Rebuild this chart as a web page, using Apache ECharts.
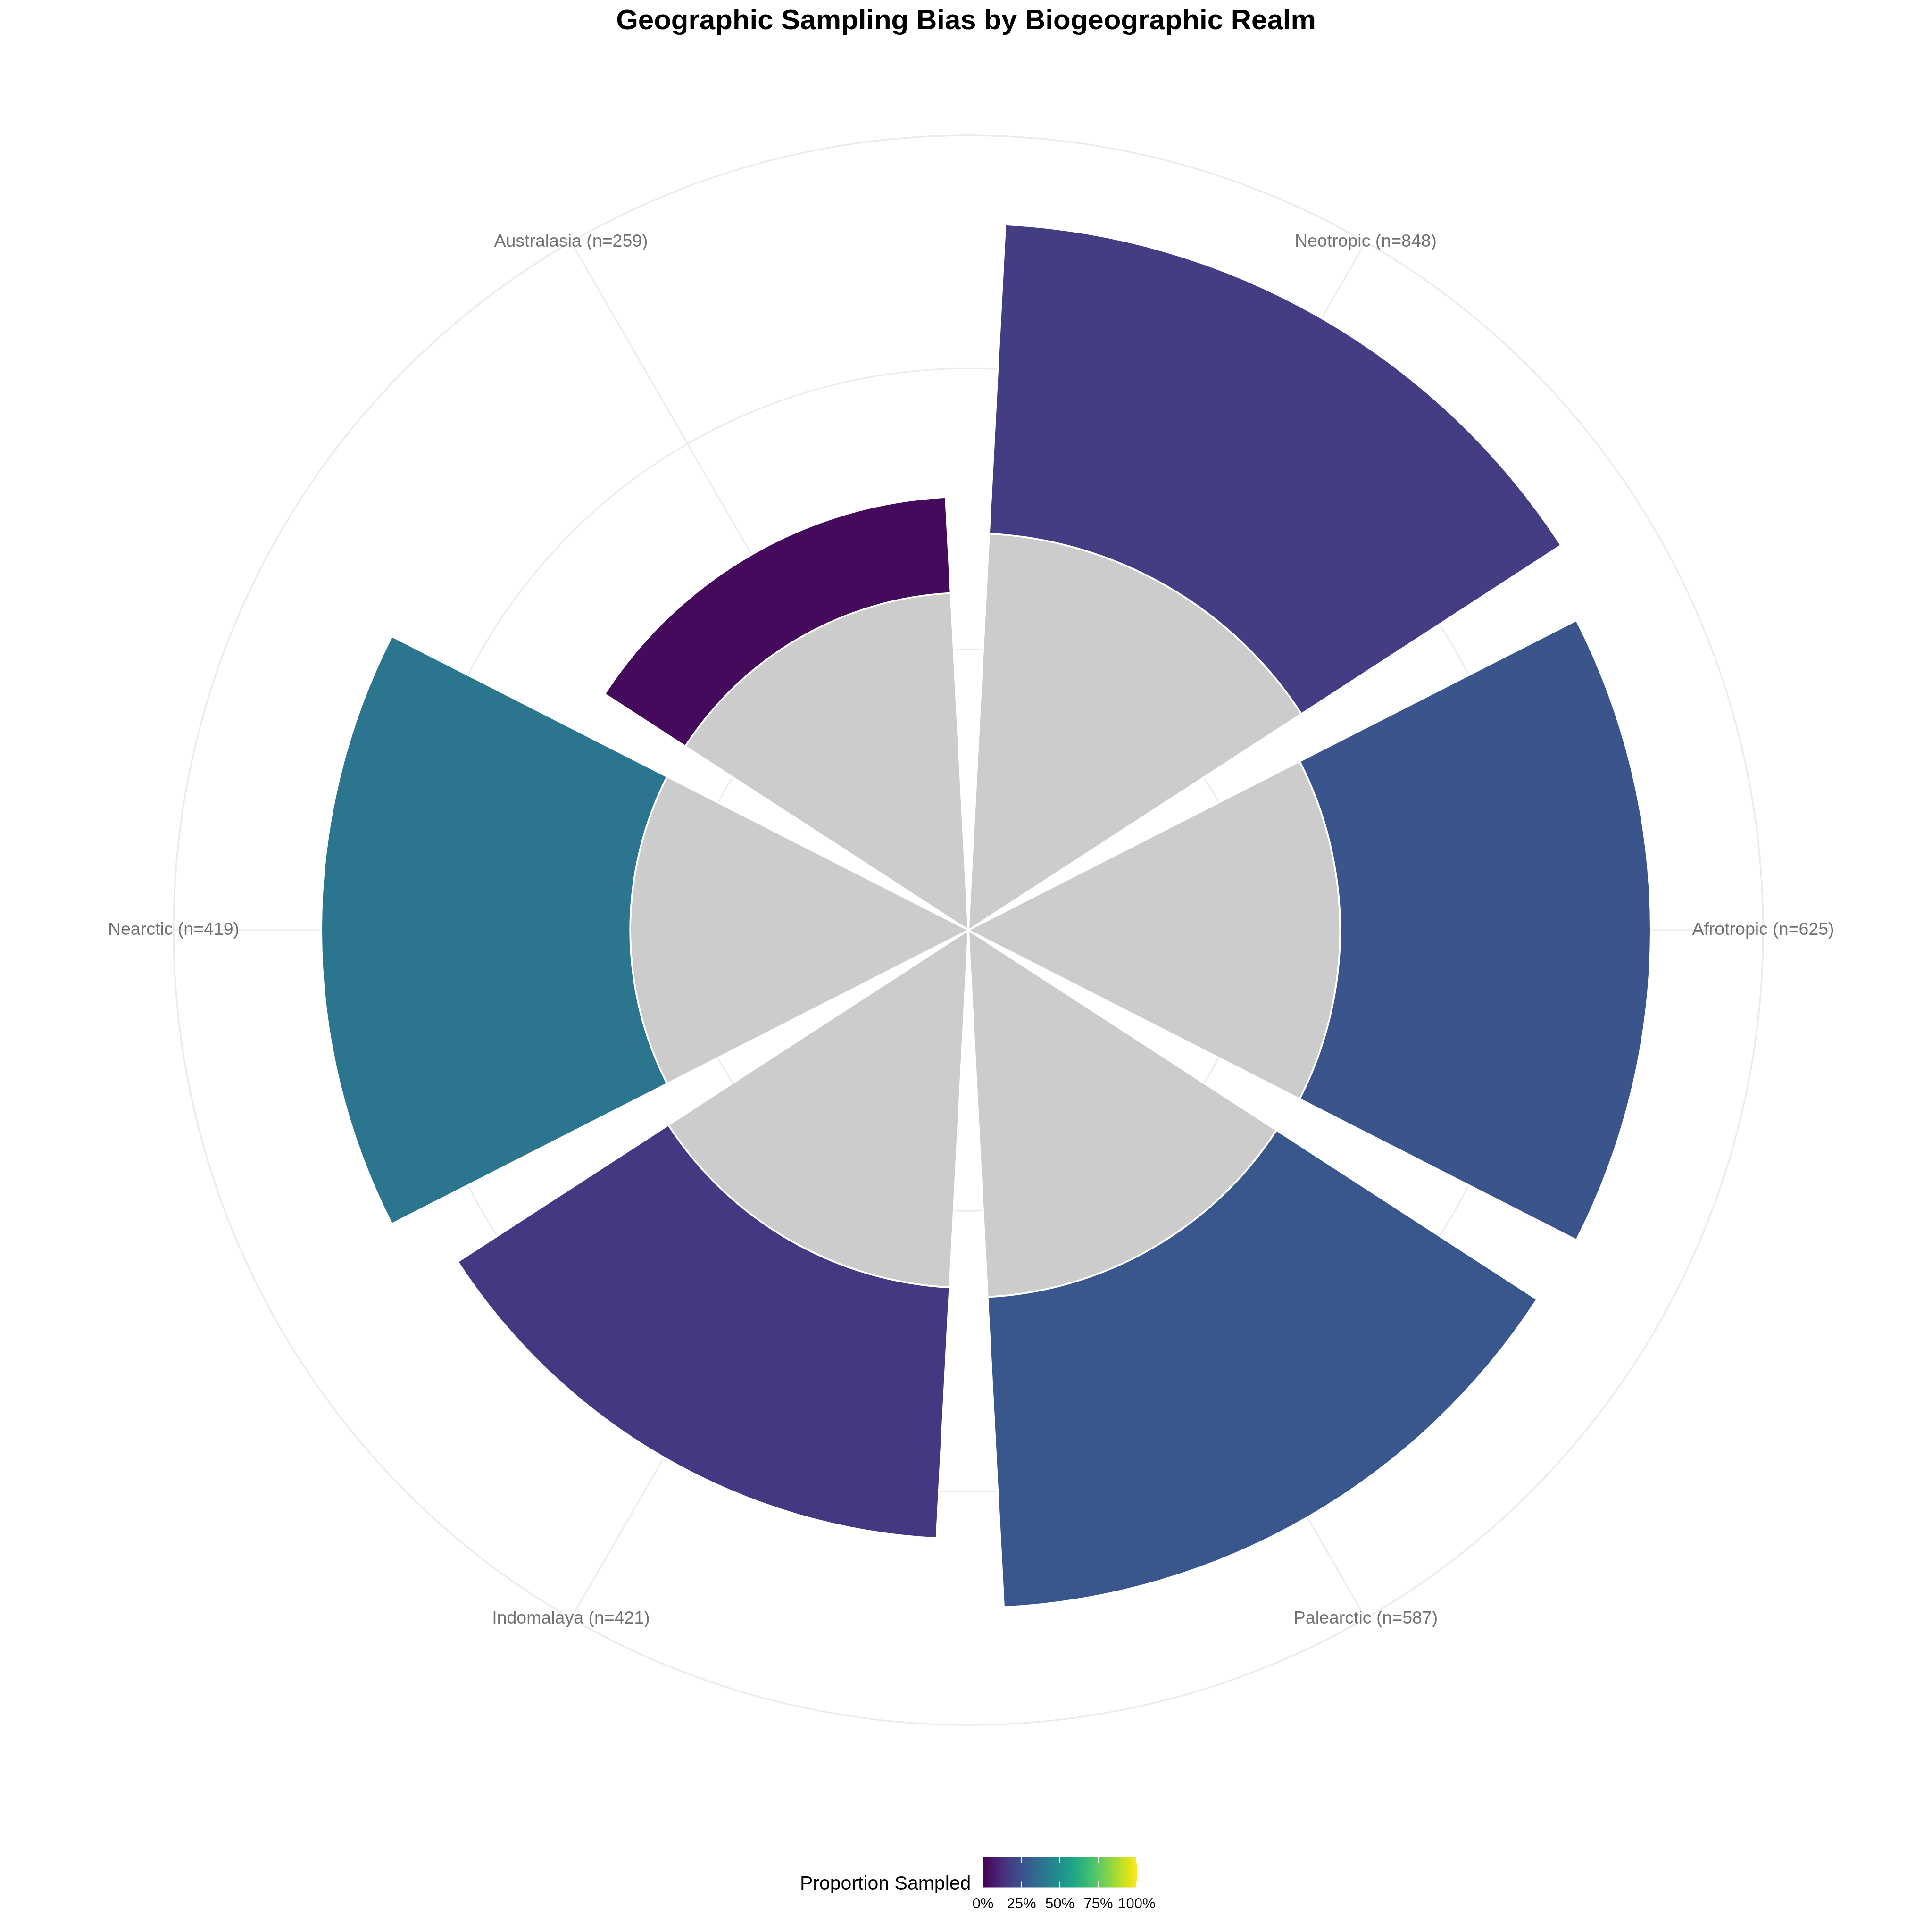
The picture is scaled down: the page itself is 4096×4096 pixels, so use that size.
<!DOCTYPE html>
<html>
<head>
<meta charset="utf-8">
<script src="https://cdn.jsdelivr.net/npm/echarts@6/dist/echarts.min.js"></script>
<style>
  html, body { margin: 0; padding: 0; background: #ffffff; }
  #chart { width: 4096px; height: 4096px; }
</style>
</head>
<body>
<div id="chart"></div>
<script>
// ---- data ----
const realms        = ['Neotropic', 'Afrotropic', 'Palearctic', 'Indomalaya', 'Nearctic', 'Australasia'];
const nRecords      = [848, 625, 587, 421, 419, 259];
const baseValues    = [7.07, 6.62, 6.54, 6.37, 6.02, 6.01];   // grey inner bar
const sampledValues = [5.51, 5.53, 5.53, 4.47, 5.50, 1.71];   // coloured outer bar
const proportions   = [0.18, 0.26, 0.27, 0.16, 0.39, 0.025];  // fill (proportion sampled)
const radialMax     = 14.15;   // outer ring of the polar panel
const radialStep    = 5;
const legendTicks   = [0, 0.25, 0.5, 0.75, 1];

const viridis = ['#440154','#471365','#482475','#463480','#414487','#3B528B','#355F8D',
  '#2F6C8E','#2A788E','#25848E','#21918C','#1E9C89','#22A884','#2FB47C','#44BF70',
  '#5EC962','#7AD151','#9BD93C','#BDDF26','#DFE318','#FDE725'];

const FONT = "'Liberation Sans', Arial, Helvetica, sans-serif";
const GRID = '#EBEBEB';
const CENTER = [2053, 1972];
const RADIUS = 1685;

const chart = echarts.init(document.getElementById('chart'), null, { renderer: 'canvas' });

const option = {
  backgroundColor: '#ffffff',
  animation: false,
  title: [
    {
      text: 'Geographic Sampling Bias by Biogeographic Realm',
      left: 'center', top: 15, padding: 0,
      textStyle: { fontFamily: FONT, fontSize: 60, fontWeight: 'bold', color: '#000000', lineHeight: 61 }
    },
    {
      text: 'Proportion Sampled',
      left: 1696, top: 3974, padding: 0,
      textStyle: { fontFamily: FONT, fontSize: 41, fontWeight: 'normal', color: '#000000', lineHeight: 41 }
    }
  ],
  polar: [
    { center: CENTER, radius: RADIUS },   // bars, spokes, labels
    { center: CENTER, radius: RADIUS }    // full grid rings
  ],
  angleAxis: [
    {
      polarIndex: 0,
      type: 'category',
      data: realms,
      boundaryGap: false,
      startAngle: 60,
      clockwise: true,
      axisLine: { show: false },
      axisTick: { show: false, interval: 0 },
      axisLabel: { show: false },
      splitLine: { show: true, interval: 0, lineStyle: { color: GRID, width: 3 } }
    },
    {
      polarIndex: 1,
      type: 'value',
      min: 0, max: 360, interval: 90,
      startAngle: 90,
      axisLine: { show: true, lineStyle: { color: GRID, width: 3 } },
      axisTick: { show: false },
      axisLabel: { show: false },
      splitLine: { show: false }
    }
  ],
  radiusAxis: [
    {
      polarIndex: 0,
      type: 'value',
      min: 0, max: radialMax, interval: radialStep,
      axisLine: { show: false },
      axisTick: { show: false },
      axisLabel: { show: false },
      splitLine: { show: false }
    },
    {
      polarIndex: 1,
      type: 'value',
      min: 0, max: radialMax, interval: radialStep,
      axisLine: { show: false },
      axisTick: { show: false },
      axisLabel: { show: false },
      splitLine: { show: true, lineStyle: { color: GRID, width: 3 } }
    }
  ],
  grid: { left: 2084, top: 3936, width: 326, height: 65.5 },
  xAxis: [
    {
      type: 'value', gridIndex: 0, position: 'bottom', min: 0, max: 1, interval: 0.25, z: 10,
      axisLine: { show: false },
      axisTick: { show: true, inside: true, length: 13, lineStyle: { color: '#ffffff', width: 2 } },
      axisLabel: {
        show: true, margin: 20, fontFamily: FONT, fontSize: 31, lineHeight: 31, color: '#000000',
        formatter: v => Math.round(v * 100) + '%'
      },
      splitLine: { show: false }
    },
    {
      type: 'value', gridIndex: 0, position: 'top', min: 0, max: 1, interval: 0.25, z: 10,
      axisLine: { show: false },
      axisTick: { show: true, inside: true, length: 13, lineStyle: { color: '#ffffff', width: 2 } },
      axisLabel: { show: false },
      splitLine: { show: false }
    }
  ],
  yAxis: { type: 'category', gridIndex: 0, data: ['bar'], show: false },
  visualMap: {
    type: 'continuous', show: false, seriesIndex: 1, dimension: 2,
    min: 0, max: 1, inRange: { color: viridis }
  },
  series: [
    {
      name: 'base', type: 'bar', coordinateSystem: 'polar', polarIndex: 0, stack: 'realm',
      barCategoryGap: '10%',
      data: realms.map((r, i) => [baseValues[i], r]),
      itemStyle: { color: '#CCCCCC', borderColor: '#ffffff', borderWidth: 3.6 },
      silent: true
    },
    {
      name: 'sampled', type: 'bar', coordinateSystem: 'polar', polarIndex: 0, stack: 'realm',
      barCategoryGap: '10%',
      data: realms.map((r, i) => [sampledValues[i], r, proportions[i]]),
      itemStyle: { borderColor: '#ffffff', borderWidth: 3.6 },
      silent: true
    },
    {
      name: 'labels', type: 'scatter', coordinateSystem: 'polar', polarIndex: 0,
      data: realms.map((r, i) => ({ name: r + ' (n=' + nRecords[i] + ')', value: [radialMax, r] })),
      symbolSize: 1,
      itemStyle: { color: 'rgba(0,0,0,0)' },
      label: {
        show: true, position: 'inside', formatter: '{b}',
        fontFamily: FONT, fontSize: 37.5, color: '#4D4D4D'
      },
      silent: true, z: 10
    },
    {
      name: 'colorbar', type: 'bar', xAxisIndex: 0, yAxisIndex: 0,
      data: [legendTicks[legendTicks.length - 1]],
      barWidth: '100%',
      itemStyle: {
        color: new echarts.graphic.LinearGradient(0, 0, 1, 0,
          viridis.map((c, i) => ({ offset: i / (viridis.length - 1), color: c })))
      },
      silent: true
    }
  ]
};

chart.setOption(option);
</script>
</body>
</html>
